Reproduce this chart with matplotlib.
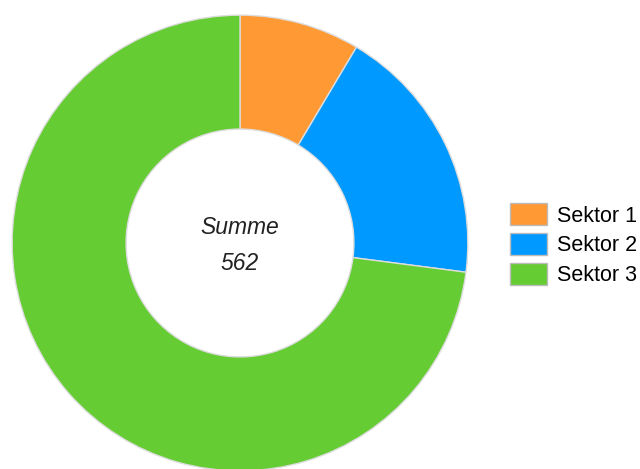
import matplotlib
matplotlib.use('Agg')
import matplotlib.pyplot as plt
from matplotlib.patches import Patch

labels = ['Sektor 1', 'Sektor 2', 'Sektor 3']
values = [48, 104, 410]
colors = ['#FF9933', '#0099FF', '#66CC33']
total = sum(values)

plt.rcParams['font.family'] = ['Liberation Sans', 'DejaVu Sans']

fig = plt.figure(figsize=(6.4, 4.69), dpi=100)
ax = fig.add_axes([11 / 640, (226 - 229) / 469, 458 / 640, 458 / 469])
ax.pie(values, colors=colors, startangle=90, counterclock=False, radius=1,
       wedgeprops=dict(width=0.5, edgecolor='#dddddd', linewidth=1))
ax.set_xlim(-1.005, 1.005)
ax.set_ylim(-1.005, 1.005)
ax.axis('off')

ax.text(0, 0.066, 'Summe', ha='center', va='center', fontsize=16.5, style='italic', color='#222222')
ax.text(0, -0.09, str(total), ha='center', va='center', fontsize=16.5, style='italic', color='#222222')

handles = [Patch(facecolor=c, edgecolor='#bbbbbb', linewidth=1) for c in colors]
fig.legend(handles, labels, loc='center left', bbox_to_anchor=(510 / 640, 0.478),
           frameon=False, fontsize=15.5, handlelength=1.7, handleheight=1.2,
           labelspacing=0.3, handletextpad=0.5, borderpad=0, borderaxespad=0)

fig.savefig('out.png', dpi=100)
